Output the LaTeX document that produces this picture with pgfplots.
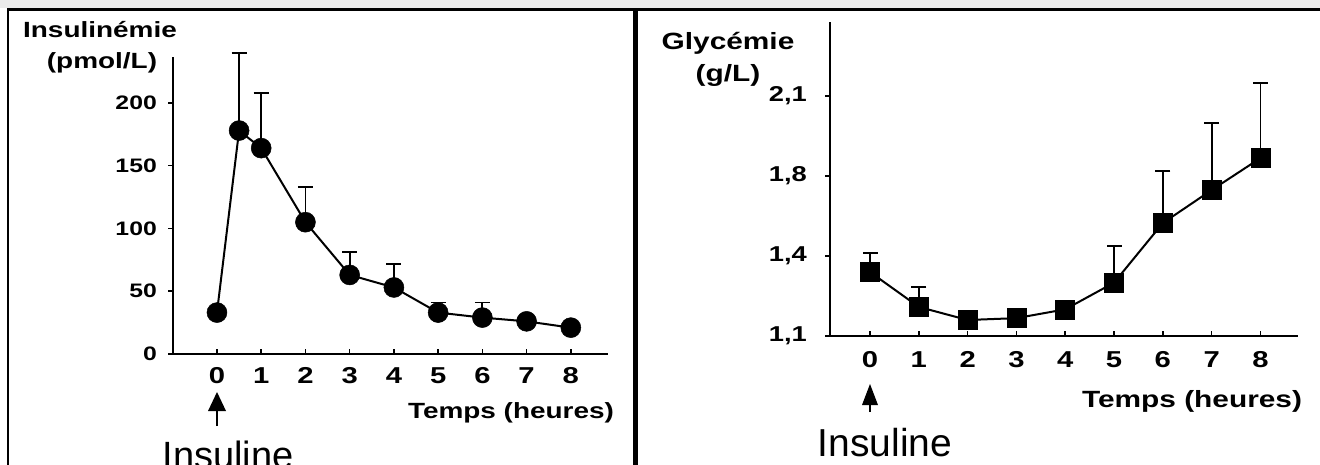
\documentclass[border=0pt]{standalone}
\usepackage{fontspec}
\setmainfont{Liberation Sans}
\newfontfamily\wbf[FakeStretch=1.27]{Liberation Sans}
\usepackage{pgfplots}
\usepackage{pgfplotstable}
\pgfplotsset{compat=1.18}

\pgfplotstableread{
x y e
0 33 0
0.5 178 62
1 164 44
2 105 28
3 63 18
4 53 19
5 33 8
6 29 12
7 26 0
8 21 0
}\insulin

\pgfplotstableread{
x y
0 1.34
1 1.209
2 1.16
3 1.167
4 1.20
5 1.30
6 1.565
7 1.73
8 1.8675
}\glyc

\pgfplotsset{
  panel/.style={
    scale only axis, clip=false,
    axis x line=bottom, axis y line=left,
    axis line style={-, line width=2pt, black},
    every tick/.style={black, line width=1.5pt},
    major tick length=5pt,
    tick align=inside, ytick align=outside,
    minor tick num=0,
    xtick={0,1,2,3,4,5,6,7,8},
    /pgf/number format/assume math mode=true,
  },
}

\begin{document}
\begin{tikzpicture}[x=1pt,y=1pt]
\path[use as bounding box] (0,0) rectangle (1320,-465);
\clip (0,0) rectangle (1320,-465);
\fill[white] (0,0) rectangle (1320,-465);
\fill[black!8] (0,0) rectangle (1320,-8.5);

% ---- left panel ----
\begin{axis}[panel,
  at={(173pt,-354pt)}, anchor=south west,
  width=435pt, height=297pt,
  xmin=-0.994, xmax=8.84, ymin=0, ymax=236.6,
  ytick={0,50,100,150,200},
  xticklabel style={font=\fontsize{23}{25}\selectfont\wbf\bfseries, inner sep=0pt, yshift=-13pt},
  yticklabel style={font=\fontsize{19.5}{21}\selectfont\wbf\bfseries, inner sep=0pt, xshift=-11pt},
]
\addplot[black, line width=2pt, mark=*, mark size=10pt, mark options={fill=black, line width=0.5pt},
  error bars/.cd, y dir=plus, y explicit,
  error bar style={line width=1.8pt, black},
  error mark=-,
  error mark options={rotate=90, mark size=7.5pt, line width=1.8pt, black}]
  table[x=x, y=y, y error=e]{\insulin};
\end{axis}

% ---- right panel ----
\begin{axis}[panel,
  at={(830pt,-336pt)}, anchor=south west,
  width=468pt, height=314pt,
  xmin=-0.82, xmax=8.77, ymin=1.1, ymax=2.378,
  y coord trafo/.code={\pgfmathparse{#1<1.4 ? (#1-1.1)/0.3 : (#1<1.8 ? 1+(#1-1.4)/0.4 : 2+(#1-1.8)/0.3)}},
  ytick={1.1,1.4,1.8,2.1},
  yticklabels={{1,1},{1,4},{1,8},{2,1}},
  xticklabel style={font=\fontsize{23}{25}\selectfont\wbf\bfseries, inner sep=0pt, yshift=-15pt},
  yticklabel style={font=\fontsize{21.5}{23}\selectfont\wbf\bfseries, inner sep=0pt, xshift=-18pt},
]
% error bars (mean to mean + SD)
\addplot[black, line width=1.8pt, empty line=jump] table[x=x, y=y] {
x y
0 1.34
0 1.416

1 1.209
1 1.284

5 1.30
5 1.45

6 1.565
6 1.819

7 1.73
7 2.0

8 1.8675
8 2.149
};
\addplot[only marks, mark=-, mark size=7.5pt, mark options={line width=1.8pt, black}]
  coordinates {(0,1.416) (1,1.284) (5,1.45) (6,1.819) (7,2.0) (8,2.149)};
\addplot[black, line width=2pt, mark=square*, mark size=9.5pt, mark options={fill=black, line width=0.5pt}]
  table[x=x, y=y]{\glyc};
\end{axis}

% ---- labels ----
\node[anchor=base, font=\fontsize{22}{24}\selectfont\wbf\bfseries, inner sep=0pt] at (100,-38) {Insulinémie};
\node[anchor=base, font=\fontsize{22}{24}\selectfont\wbf\bfseries, inner sep=0pt] at (102,-69) {(pmol/L)};
\node[anchor=base, font=\fontsize{22}{24}\selectfont\wbf\bfseries, inner sep=0pt] at (511,-418) {Temps (heures)};
\draw[line width=2pt] (217,-426) -- (217,-408);
\fill (217,-392) -- (208,-411) -- (226,-411) -- cycle;
\node[anchor=base, font=\fontsize{38}{40}\selectfont, inner sep=0pt] at (228,-468) {Insuline};

\node[anchor=base, font=\fontsize{23.5}{26}\selectfont\wbf\bfseries, inner sep=0pt] at (728,-50) {Glycémie};
\node[anchor=base, font=\fontsize{23.5}{26}\selectfont\wbf\bfseries, inner sep=0pt] at (728,-82) {(g/L)};
\node[anchor=base, font=\fontsize{23.5}{26}\selectfont\wbf\bfseries, inner sep=0pt] at (1192,-407) {Temps (heures)};
\draw[line width=2pt] (870,-412) -- (870,-402);
\fill (870,-384) -- (862,-405) -- (878,-405) -- cycle;
\node[anchor=base, font=\fontsize{39}{41}\selectfont, inner sep=0pt] at (885,-456) {Insuline};

% ---- frame ----
\draw[line width=3pt] (7,-9.7) -- (1320,-9.7);
\draw[line width=2pt] (8,-9.7) -- (8,-465);
\draw[line width=4.5pt] (635.5,-9.7) -- (635.5,-465);
\end{tikzpicture}
\end{document}
